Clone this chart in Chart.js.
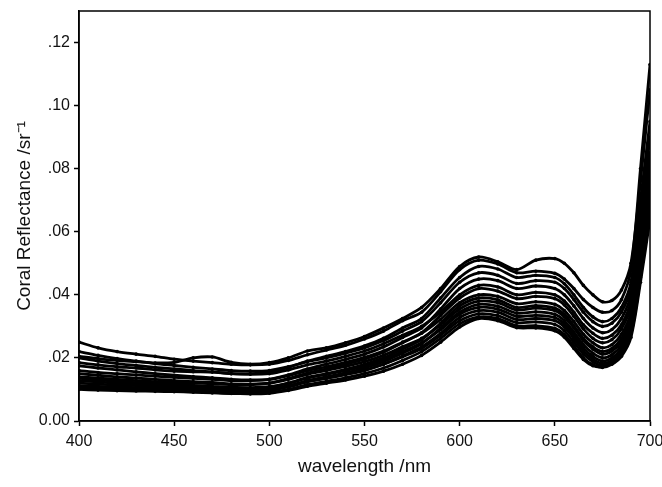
<!DOCTYPE html>
<html>
<head>
<meta charset="utf-8">
<script src="https://cdn.jsdelivr.net/npm/chart.js@4"></script>
<style>
  body { margin: 0; background: #fff; }
  #wrap { width: 662px; height: 487px; }
</style>
</head>
<body>
<div id="wrap"><canvas id="spectra" width="662" height="487"></canvas></div>
<script>
// wavelengths (nm) where each spectrum was read
const wavelengths = [400,410,420,430,440,450,460,470,480,490,500,510,520,530,540,550,560,570,580,590,600,610,620,630,640,650,655,660,665,670,675,680,685,690,695,700];

// reflectance spectra (sr^-1)
const coralA = [.0205,.0198,.0192,.0188,.0184,.0186,.0200,.0203,.0186,.0180,.0185,.0200,.0222,.0232,.0248,.0268,.0295,.0325,.0360,.0420,.0490,.0520,.0505,.0480,.0510,.0515,.0500,.0470,.0430,.0400,.0378,.0382,.0415,.0500,.0760,.1050];
const coralB = [.0250,.0232,.0220,.0212,.0205,.0196,.0190,.0185,.0180,.0178,.0180,.0192,.0210,.0225,.0240,.0260,.0285,.0318,.0345,.0410,.0480,.0510,.0498,.0470,.0475,.0468,.0450,.0420,.0385,.0360,.0345,.0350,.0385,.0480,.0800,.1130];
const coralC = [.0185,.0178,.0172,.0168,.0162,.0158,.0156,.0155,.0150,.0150,.0155,.0170,.0190,.0205,.0220,.0238,.0262,.0295,.0325,.0390,.0455,.0490,.0482,.0455,.0462,.0455,.0435,.0400,.0360,.0330,.0315,.0325,.0360,.0440,.0700,.0950];
const coralD = [.0220,.0208,.0198,.0190,.0182,.0176,.0170,.0165,.0160,.0158,.0160,.0172,.0188,.0200,.0215,.0232,.0255,.0285,.0315,.0375,.0440,.0470,.0462,.0436,.0445,.0440,.0420,.0385,.0345,.0315,.0300,.0310,.0345,.0420,.0650,.0900];
const coralE = [.0160,.0154,.0150,.0146,.0142,.0138,.0135,.0132,.0128,.0128,.0132,.0146,.0165,.0180,.0195,.0212,.0235,.0265,.0295,.0355,.0420,.0450,.0445,.0420,.0428,.0420,.0400,.0365,.0325,.0295,.0280,.0290,.0325,.0400,.0620,.0850];
const coralF = [.0200,.0190,.0182,.0176,.0170,.0165,.0160,.0156,.0150,.0148,.0150,.0162,.0178,.0190,.0205,.0222,.0245,.0272,.0300,.0345,.0400,.0430,.0425,.0400,.0408,.0400,.0380,.0345,.0305,.0278,.0262,.0272,.0305,.0380,.0600,.0820];
const coralG = [.0140,.0136,.0132,.0128,.0125,.0122,.0120,.0118,.0115,.0115,.0120,.0135,.0152,.0165,.0180,.0196,.0218,.0248,.0280,.0335,.0390,.0420,.0412,.0388,.0395,.0388,.0368,.0332,.0292,.0262,.0248,.0258,.0292,.0365,.0580,.0800];
const coralH = [.0175,.0168,.0162,.0156,.0150,.0145,.0141,.0137,.0132,.0130,.0132,.0144,.0160,.0172,.0186,.0202,.0222,.0250,.0278,.0322,.0375,.0400,.0395,.0372,.0378,.0370,.0350,.0315,.0275,.0248,.0232,.0242,.0275,.0345,.0560,.0780];
const coralI = [.0120,.0117,.0114,.0112,.0110,.0108,.0106,.0104,.0102,.0102,.0106,.0120,.0138,.0150,.0164,.0180,.0200,.0228,.0258,.0310,.0365,.0390,.0384,.0360,.0366,.0358,.0338,.0302,.0262,.0235,.0220,.0230,.0262,.0330,.0540,.0760];
const coralJ = [.0150,.0145,.0140,.0136,.0132,.0128,.0125,.0122,.0118,.0117,.0120,.0132,.0148,.0160,.0173,.0188,.0208,.0235,.0262,.0305,.0355,.0380,.0375,.0352,.0358,.0350,.0330,.0295,.0255,.0228,.0212,.0222,.0252,.0320,.0520,.0740];
const coralK = [.0105,.0103,.0101,.0100,.0098,.0096,.0095,.0093,.0092,.0092,.0096,.0110,.0128,.0140,.0153,.0168,.0188,.0215,.0245,.0295,.0345,.0370,.0364,.0342,.0346,.0338,.0318,.0282,.0242,.0215,.0200,.0210,.0240,.0305,.0500,.0720];
const coralL = [.0135,.0130,.0126,.0122,.0119,.0116,.0113,.0110,.0107,.0106,.0109,.0120,.0136,.0148,.0160,.0174,.0194,.0220,.0248,.0290,.0338,.0360,.0355,.0332,.0335,.0328,.0308,.0272,.0232,.0205,.0190,.0200,.0230,.0295,.0490,.0700];
const coralM = [.0112,.0110,.0108,.0106,.0104,.0102,.0100,.0098,.0096,.0095,.0098,.0108,.0124,.0135,.0147,.0160,.0180,.0206,.0235,.0278,.0328,.0350,.0345,.0322,.0325,.0318,.0298,.0262,.0222,.0196,.0182,.0192,.0220,.0285,.0470,.0680];
const coralN = [.0128,.0124,.0120,.0117,.0114,.0111,.0108,.0105,.0102,.0100,.0102,.0112,.0126,.0137,.0148,.0162,.0180,.0204,.0230,.0272,.0318,.0340,.0334,.0312,.0314,.0306,.0286,.0250,.0212,.0188,.0176,.0186,.0214,.0275,.0455,.0660];
const coralO = [.0100,.0098,.0096,.0095,.0094,.0093,.0091,.0089,.0087,.0087,.0090,.0100,.0115,.0126,.0137,.0150,.0168,.0192,.0220,.0262,.0308,.0330,.0325,.0302,.0302,.0294,.0274,.0238,.0200,.0178,.0170,.0180,.0205,.0265,.0440,.0640];
const coralP = [.0110,.0107,.0104,.0102,.0099,.0097,.0094,.0091,.0088,.0086,.0088,.0097,.0110,.0120,.0130,.0142,.0158,.0180,.0208,.0250,.0298,.0325,.0318,.0296,.0295,.0286,.0266,.0230,.0195,.0175,.0172,.0185,.0212,.0280,.0460,.0660];

const xTicks = [400, 450, 500, 550, 600, 650, 700];
const yTicks = [0, 0.02, 0.04, 0.06, 0.08, 0.10, 0.12];

const allCurves = [coralA, coralB, coralC, coralD, coralE, coralF, coralG, coralH,
                   coralI, coralJ, coralK, coralL, coralM, coralN, coralO, coralP];

const datasets = allCurves.map((curve) => ({
  data: curve.map((v, i) => ({ x: wavelengths[i], y: v })),
  borderColor: "#000",
  backgroundColor: "#000",
  borderWidth: 2.8,
  pointRadius: 1.8,
  pointBorderWidth: 0,
  tension: 0.3,
  fill: false,
}));

// top and right sides of the frame
const frameBox = {
  id: "frameBox",
  afterDraw(chart) {
    const { ctx, chartArea } = chart;
    ctx.save();
    ctx.strokeStyle = "#000";
    ctx.lineWidth = 1.5;
    ctx.strokeRect(chartArea.left, chartArea.top, chartArea.right - chartArea.left, chartArea.bottom - chartArea.top);
    ctx.restore();
  },
};

const tickFont = { family: "'Liberation Sans', Arial, sans-serif", size: 16 };
const titleFont = { family: "'Liberation Sans', Arial, sans-serif", size: 19 };

new Chart(document.getElementById("spectra").getContext("2d"), {
  type: "line",
  data: { datasets: datasets },
  plugins: [frameBox],
  options: {
    responsive: false,
    animation: false,
    devicePixelRatio: 1,
    layout: { padding: { left: 0, right: 0, top: 11, bottom: 0 } },
    plugins: { legend: { display: false }, tooltip: { enabled: false } },
    scales: {
      x: {
        type: "linear",
        min: 400,
        max: 700,
        afterBuildTicks: (scale) => { scale.ticks = xTicks.map((v) => ({ value: v })); },
        afterFit: (scale) => { scale.height = 66; scale.paddingRight = 12; scale.paddingLeft = 0; },
        border: { display: true, color: "#000", width: 1.5 },
        grid: { drawOnChartArea: false, drawTicks: true, tickLength: 5, color: "#000", tickWidth: 1.5 },
        ticks: { color: "#111", font: tickFont, padding: 6, maxRotation: 0 },
        title: { display: true, text: "wavelength /nm", color: "#111", font: titleFont, padding: { top: 0, bottom: 9 } },
      },
      y: {
        min: 0,
        max: 0.13,
        afterBuildTicks: (scale) => { scale.ticks = yTicks.map((v) => ({ value: v })); },
        afterFit: (scale) => { scale.width = 79; scale.paddingTop = 0; scale.paddingBottom = 0; },
        border: { display: true, color: "#000", width: 1.5 },
        grid: { drawOnChartArea: false, drawTicks: true, tickLength: 5, color: "#000", tickWidth: 1.5 },
        ticks: {
          color: "#111",
          font: tickFont,
          padding: 4,
          callback: (v) => (v === 0 ? "0.00" : v.toFixed(2).replace(/^0/, "")),
        },
        title: { display: true, text: "Coral Reflectance /sr\u207B\u00B9", color: "#111", font: titleFont, padding: { top: 13, bottom: 13 } },
      },
    },
  },
});
</script>
</body>
</html>
